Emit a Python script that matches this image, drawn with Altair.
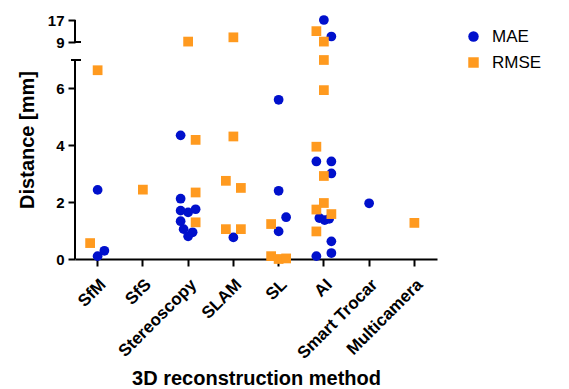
import altair as alt
import pandas as pd

methods = ["SfM", "SfS", "Stereoscopy", "SLAM", "SL", "AI", "Smart Trocar", "Multicamera"]

# MAE values (method, value, jitter slot)
mae_method = ["SfM", "SfM", "SfM",
              "Stereoscopy", "Stereoscopy", "Stereoscopy", "Stereoscopy", "Stereoscopy",
              "Stereoscopy", "Stereoscopy", "Stereoscopy", "Stereoscopy",
              "SLAM",
              "SL", "SL", "SL", "SL",
              "AI", "AI", "AI", "AI", "AI", "AI", "AI", "AI", "AI", "AI", "AI",
              "Smart Trocar"]
mae_value = [2.43, 0.10, 0.29,
             4.35, 2.12, 1.70, 1.64, 1.75, 1.33, 1.05, 0.94, 0.80,
             0.76,
             5.60, 2.40, 1.47, 0.97,
             17.0, 11.0, 3.43, 3.43, 3.01, 1.44, 1.37, 1.41, 0.62, 0.21, 0.10,
             1.96]
mae_slot = [0, 0, 0.9,
            -1, -1, -1, 0, 1, -1, -0.6, 0.6, 0,
            0,
            0, 0, 1, 0,
            0, 1, -1, 1, 1, -0.6, 0.1, 0.7, 1, 1, -1,
            0]

# RMSE values
rmse_method = ["SfM", "SfM",
               "SfS",
               "Stereoscopy", "Stereoscopy", "Stereoscopy", "Stereoscopy",
               "SLAM", "SLAM", "SLAM", "SLAM", "SLAM", "SLAM",
               "SL", "SL", "SL", "SL",
               "AI", "AI", "AI", "AI", "AI", "AI", "AI", "AI", "AI", "AI",
               "Multicamera"]
rmse_value = [6.64, 0.56,
              2.44,
              9.15, 4.19, 2.34, 1.29,
              10.7, 4.31, 2.75, 2.50, 1.05, 1.05,
              1.23, 0.10, 0.0, 0.02,
              12.95, 9.15, 7.0, 5.94, 3.95, 2.92, 1.97, 1.74, 1.58, 0.97,
              1.27]
rmse_slot = [0, -1,
             0,
             0, 1, 1, 1,
             0, 0, -1, 1, -1, 1,
             -1, -1, 0, 1,
             -1, 0, 0, 0, -1, 0, 0, -1, 1, -1,
             0]

y_ticks = [0, 2, 4, 6, 9, 17]
y_breaks = [0, 7, 9, 17]

df = pd.concat([
    pd.DataFrame({"series": "MAE", "method": mae_method, "value": mae_value, "slot": mae_slot}),
    pd.DataFrame({"series": "RMSE", "method": rmse_method, "value": rmse_value, "slot": rmse_slot}),
], ignore_index=True)

segments = pd.DataFrame({"lo": [y_breaks[0], y_breaks[2]], "hi": [y_breaks[1], y_breaks[3]]})

W, H = 362, 239
bw = W / len(methods)

yscale = alt.Scale(domain=y_breaks, range=[H, 40, 22, 0], zero=False, nice=False)
yaxis = alt.Axis(values=y_ticks, domain=False, grid=False, tickSize=7, tickWidth=2,
                 tickColor="black", labelFontSize=15, labelFontWeight="bold",
                 labelColor="black", labelPadding=4, title="Distance [mm]",
                 titleFontSize=20, titleFontWeight="bold", titleColor="black",
                 titlePadding=10)

points = alt.Chart(df).mark_point(filled=True, opacity=1, size=95).encode(
    x=alt.X("method:N", sort=methods,
            scale=alt.Scale(domain=methods, paddingInner=0, paddingOuter=0),
            axis=alt.Axis(title="3D reconstruction method", labelAngle=-45,
                          labelFontSize=17, labelFontWeight="bold", labelColor="black",
                          domainColor="black", domainWidth=2, tickColor="black",
                          tickWidth=2, tickSize=7, labelPadding=10,
                          titleFontSize=20, titleFontWeight="bold", titleColor="black",
                          titlePadding=7)),
    xOffset=alt.XOffset("slot:Q", scale=alt.Scale(domain=[-1, 1], range=[bw / 2 - 7.5, bw / 2 + 7.5])),
    y=alt.Y("value:Q", scale=yscale, axis=yaxis),
    color=alt.Color("series:N", scale=alt.Scale(domain=["MAE", "RMSE"], range=["#0010CC", "#FF9A1F"]),
                    legend=alt.Legend(title=None, orient="none", legendX=390, legendY=8,
                                      labelFontSize=17, labelColor="black", symbolSize=110,
                                      rowPadding=8, labelOffset=10, padding=0)),
    shape=alt.Shape("series:N", scale=alt.Scale(domain=["MAE", "RMSE"], range=["circle", "square"])),
)

axis_segments = alt.Chart(segments).mark_rule(color="black", strokeWidth=2).encode(
    x=alt.value(0),
    y=alt.Y("lo:Q", scale=yscale, axis=yaxis),
    y2="hi:Q",
)

cap7 = alt.Chart(segments).mark_rule(color="black", strokeWidth=2).encode(
    x=alt.value(-4), x2=alt.value(6), y=alt.Y("hi:Q", aggregate="min", scale=yscale, axis=yaxis),
)
cap9 = alt.Chart(segments).mark_rule(color="black", strokeWidth=2).encode(
    x=alt.value(0), x2=alt.value(6), y=alt.Y("lo:Q", aggregate="max", scale=yscale, axis=yaxis),
)

chart = alt.layer(axis_segments, cap7, cap9, points).properties(
    width=W, height=H, padding={"left": 9, "top": 5, "right": 5, "bottom": 5}
).configure(font="Liberation Sans").configure_view(stroke=None)

chart.save("out.html", embed_options={"renderer": "svg", "actions": False})
